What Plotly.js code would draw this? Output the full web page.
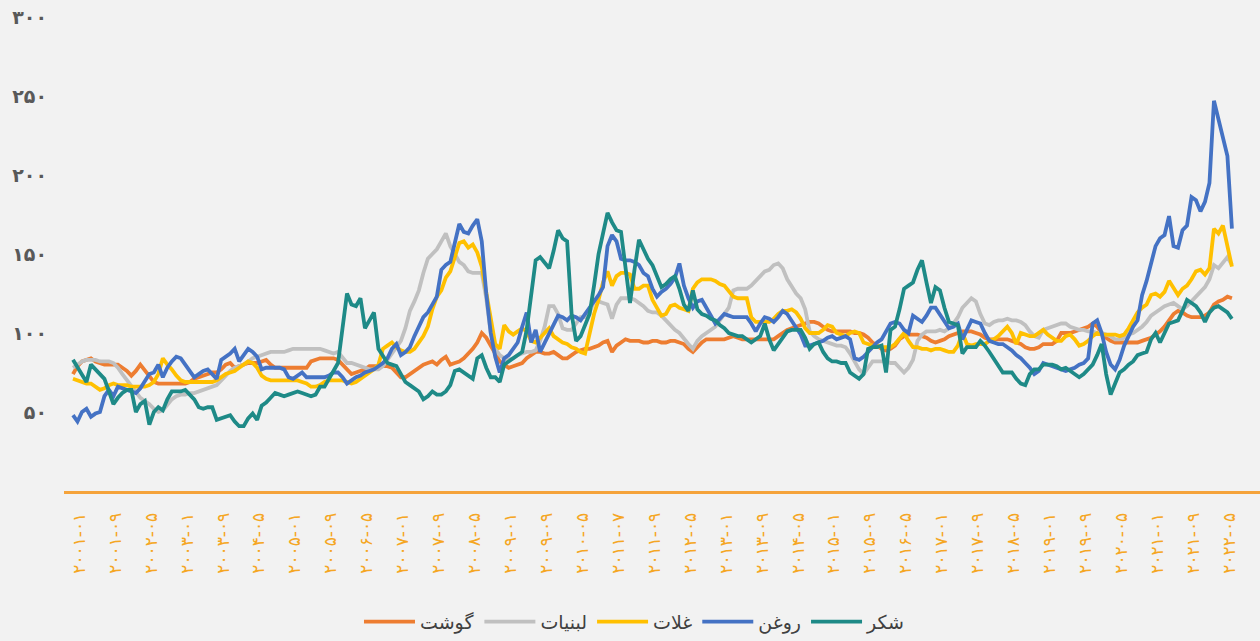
<!DOCTYPE html>
<html><head><meta charset="utf-8">
<script src="https://cdn.plot.ly/plotly-3.0.1.min.js"></script>
<style>html,body{margin:0;padding:0;background:#f2f2f2;} #chart{width:1260px;height:641px;}</style>
</head><body><div id="chart"></div>
<script>
// Monthly indices, 2001-01 .. 2022-07
const tickLabels = ['۲۰۰۱-۰۱','۲۰۰۱-۰۹','۲۰۰۲-۰۵','۲۰۰۳-۰۱','۲۰۰۳-۰۹','۲۰۰۴-۰۵','۲۰۰۵-۰۱','۲۰۰۵-۰۹','۲۰۰۶-۰۵','۲۰۰۷-۰۱','۲۰۰۷-۰۹','۲۰۰۸-۰۵','۲۰۰۹-۰۱','۲۰۰۹-۰۹','۲۰۱۰-۰۵','۲۰۱۱-۰۷','۲۰۱۱-۰۹','۲۰۱۲-۰۵','۲۰۱۳-۰۱','۲۰۱۳-۰۹','۲۰۱۴-۰۵','۲۰۱۵-۰۱','۲۰۱۵-۰۹','۲۰۱۶-۰۵','۲۰۱۷-۰۱','۲۰۱۷-۰۹','۲۰۱۸-۰۵','۲۰۱۹-۰۱','۲۰۱۹-۰۹','۲۰۲۰-۰۵','۲۰۲۱-۰۱','۲۰۲۱-۰۹','۲۰۲۲-۰۵'];
const yTickVals = [50,100,150,200,250,300];
const yTickText = ['۵۰','۱۰۰','۱۵۰','۲۰۰','۲۵۰','۳۰۰'];

const meat = [
74,79,82,83,84,82,81,80,80,80,80,78,
76,73,76,80,76,72,69,68,68,68,68,68,
68,68,69,71,72,73,74,75,75,77,80,81,
78,79,80,81,81,81,82,83,80,78,78,78,
78,78,78,78,78,82,83,84,84,84,84,83,
80,77,74,75,76,77,79,79,79,79,79,78,
75,72,72,74,76,78,80,81,82,80,83,85,
80,81,82,84,87,90,94,100,97,92,86,82,
80,78,79,80,81,84,86,88,88,87,87,88,
86,84,84,86,88,89,90,90,91,92,94,95,
88,92,94,96,95,95,95,94,94,95,95,94,
94,95,95,94,93,90,88,91,94,96,96,96,
96,96,97,98,97,96,96,96,96,96,96,96,
96,98,100,102,103,104,105,106,107,107,106,104,
102,101,101,101,101,101,100,100,99,97,94,92,
90,89,90,92,96,98,99,99,99,98,97,95,
94,95,96,98,99,100,101,101,101,100,99,97,
96,96,96,96,96,95,94,93,91,90,90,91,
93,93,93,95,100,100,100,101,102,103,104,106,
104,100,97,95,94,94,94,94,94,94,95,96,
97,99,101,104,108,112,114,113,111,110,110,110,
111,113,118,120,121,123,122];

const dairy = [
78,80,82,83,83,83,82,82,82,81,78,74,
70,66,62,59,57,55,52,50,51,55,58,60,
61,61,62,62,63,64,65,66,67,70,73,76,
78,79,80,82,84,85,86,87,88,88,88,88,
89,90,90,90,90,90,90,90,89,88,87,88,
84,81,81,80,79,78,77,77,77,79,83,88,
92,95,103,114,120,127,138,147,150,153,158,163,
155,150,145,143,139,138,138,138,122,100,90,86,
84,83,84,86,87,88,88,89,95,104,117,117,
112,103,102,102,106,110,110,113,120,120,119,118,
109,118,122,122,122,121,119,117,114,113,113,111,
108,105,102,100,96,93,90,95,98,100,102,104,
108,112,116,127,128,128,128,130,133,136,139,140,
143,144,141,134,129,125,122,115,101,98,96,95,
94,93,92,92,91,87,82,77,74,78,82,82,
82,82,81,81,78,75,78,83,95,99,101,101,
101,102,101,103,106,110,116,119,122,120,112,106,
105,107,108,108,109,108,108,107,105,101,98,97,
102,103,104,105,106,106,104,103,102,102,101,101,
100,100,99,98,96,96,97,99,100,102,104,107,
111,113,115,117,118,119,117,115,117,120,123,126,
129,134,143,141,145,148,143];

const cereals = [
71,70,69,68,68,66,64,65,67,68,67,67,
67,66,66,66,66,67,69,74,84,80,77,73,
70,69,69,69,69,69,69,69,70,72,74,75,
76,78,80,82,81,78,73,71,70,70,70,70,
70,70,70,69,68,66,66,67,69,70,70,70,
70,69,68,69,71,73,75,77,80,90,92,94,
91,89,88,88,90,94,98,104,115,123,127,135,
139,148,157,158,154,156,151,142,126,108,93,90,
105,101,99,101,103,101,95,94,97,100,103,98,
96,94,93,91,90,88,87,100,112,121,132,139,
130,136,138,138,137,128,128,130,130,121,116,111,
112,117,118,116,115,114,128,132,134,134,134,133,
131,130,126,123,122,122,122,110,107,107,107,107,
109,112,114,114,115,113,109,103,100,100,100,102,
105,104,100,99,98,100,101,100,94,93,92,92,
91,91,91,93,97,100,95,91,91,90,90,89,
90,90,89,88,88,92,100,93,92,93,93,93,
95,96,98,101,104,100,93,100,99,98,98,100,
102,99,97,95,95,98,99,96,92,93,95,98,
100,99,99,99,99,98,99,103,108,113,116,118,
124,125,123,126,133,129,124,128,130,134,139,140,
137,141,166,163,168,155,142];

const oils = [
48,44,50,52,47,49,50,60,64,60,66,65,
64,63,62,65,70,74,75,80,72,78,82,85,
84,80,76,72,74,76,77,74,71,83,85,87,
90,82,86,90,88,85,77,78,78,78,78,77,
72,71,73,75,72,72,72,72,72,73,75,75,
72,68,70,72,73,75,76,77,79,81,84,90,
93,86,88,91,98,104,110,113,118,123,140,143,
145,156,169,164,163,168,172,158,125,100,85,75,
84,86,90,94,104,113,94,102,88,94,99,105,
111,110,108,111,110,108,112,116,119,124,129,155,
162,158,147,146,146,145,143,138,136,128,123,126,
128,131,135,144,130,122,116,120,121,116,110,106,
109,112,111,110,110,110,110,106,101,106,110,109,
107,110,114,112,108,104,99,92,92,93,94,95,
97,98,96,97,98,96,84,83,85,88,91,94,
96,101,106,107,106,102,100,111,109,107,111,116,
116,112,108,103,104,106,96,102,108,107,106,100,
95,94,93,93,91,89,86,84,81,78,74,76,
81,80,79,78,77,76,77,78,80,81,84,106,
108,100,88,80,77,83,92,98,104,108,124,133,
143,155,160,162,174,155,154,165,168,186,184,177,
183,195,247,235,225,212,166];

const sugar = [
83,78,73,69,80,77,74,71,63,55,59,62,
64,64,50,55,57,42,50,53,51,58,63,63,
63,64,61,58,53,52,53,53,45,46,47,48,
44,41,41,46,49,45,54,56,59,62,61,60,
61,62,63,62,61,60,61,66,66,71,77,81,
103,125,118,117,122,103,108,113,90,85,81,80,
79,74,69,67,65,63,58,60,63,61,61,63,
67,76,77,75,73,71,84,86,78,72,72,69,
80,82,84,86,88,102,125,146,148,144,141,152,
165,160,158,112,95,98,105,112,130,150,163,176,
170,165,164,140,119,140,159,153,147,143,136,129,
131,134,136,128,118,114,127,115,112,111,109,108,
105,103,100,99,98,98,96,94,96,98,106,96,
89,93,98,101,102,102,102,97,90,93,94,88,
84,82,82,81,81,75,73,71,74,90,91,91,
92,75,102,104,115,128,130,132,140,146,132,119,
129,127,116,107,106,105,87,91,91,91,95,92,
88,84,79,75,75,75,71,68,67,74,77,77,
80,80,80,79,77,78,76,74,72,74,77,80,
86,93,74,61,68,75,77,80,82,86,87,88,
96,100,94,100,106,107,108,114,121,119,117,113,
107,113,116,117,115,113,109];

const seriesNames = ['گوشت','لبنیات','غلات','روغن','شکر'];
const seriesColors = ['#ED7D31','#C0C0C0','#FFC000','#4472C4','#1E8A87'];
const seriesData = [meat, dairy, cereals, oils, sugar];

const monthIndex = meat.map((_, i) => i);
const traces = seriesData.map((vals, k) => ({
  type: 'scatter', mode: 'lines', x: monthIndex, y: vals,
  name: seriesNames[k], line: {color: seriesColors[k], width: 3.8},
  hoverinfo: 'skip'
}));

const layout = {
  width: 1260, height: 641,
  paper_bgcolor: '#f2f2f2', plot_bgcolor: '#f2f2f2',
  margin: {l: 64, r: 0, t: 17, b: 144},
  font: {family: "'DejaVu Sans', sans-serif", color: '#404040'},
  xaxis: {
    range: [-2, 264.25],
    tickmode: 'array',
    tickvals: tickLabels.map((_, k) => k * 8 + 1.4),
    ticktext: tickLabels,
    tickangle: -90,
    tickfont: {size: 17, color: '#F5A623'},
    showgrid: false, zeroline: false,
    showline: true, linecolor: '#F5A33B', linewidth: 3,
    ticks: '', ticklabelstandoff: 12
  },
  yaxis: {
    range: [0, 300],
    tickmode: 'array', tickvals: yTickVals, ticktext: yTickText,
    tickfont: {size: 19, color: '#595959', weight: 700},
    showgrid: false, zeroline: false, showline: false,
    ticks: '', ticklabelstandoff: 16
  },
  showlegend: true,
  legend: {
    orientation: 'h', x: 0.477, xanchor: 'center', y: -0.276, yanchor: 'middle',
    font: {size: 19, color: '#404040'}, itemwidth: 51,
    bgcolor: 'rgba(0,0,0,0)'
  }
};

Plotly.newPlot('chart', traces, layout, {staticPlot: true, displayModeBar: false});
</script>
</body></html>
